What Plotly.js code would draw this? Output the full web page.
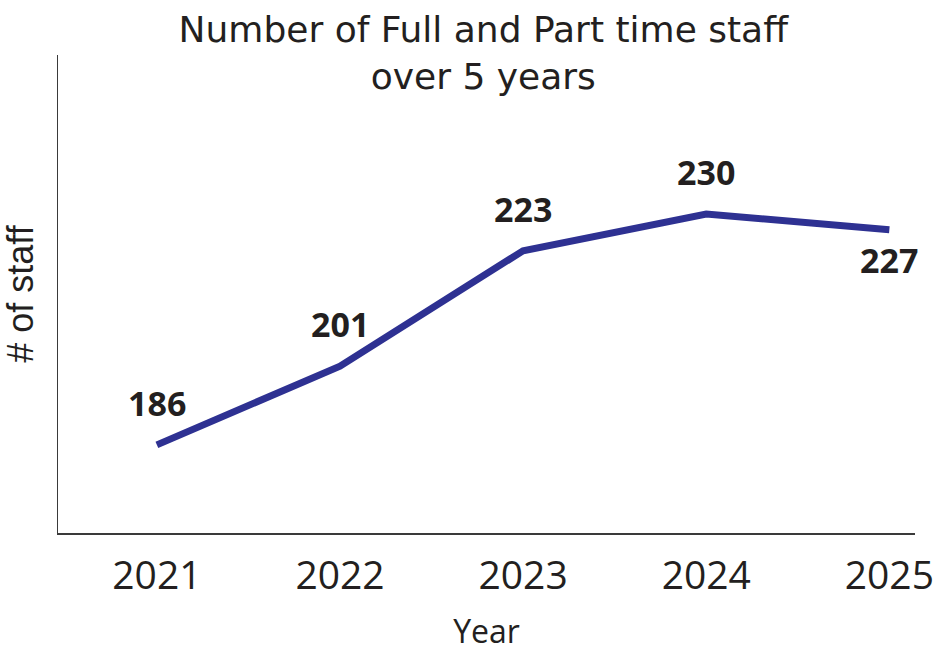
<!DOCTYPE html>
<html>
<head>
<meta charset="utf-8">
<script src="https://cdn.plot.ly/plotly-3.0.1.min.js"></script>
<style>html,body{margin:0;padding:0;background:#fff;}#chart{width:933px;height:652px;}</style>
</head>
<body>
<div id="chart"></div>
<script>
var years = ['2021', '2022', '2023', '2024', '2025'];
var staff = [186, 201, 223, 230, 227];
var labelShift = [42, 42, 42, 42, -30];

var textColor = '#231f20';
var sans = '"Open Sans", "Noto Sans", Arial, sans-serif';

var trace = {
  x: years,
  y: staff,
  type: 'scatter',
  mode: 'lines',
  line: {color: '#2e3192', width: 7},
  hoverinfo: 'skip'
};

var annotations = years.map(function (yr, i) {
  return {
    x: i, y: staff[i], xref: 'x', yref: 'y',
    text: '<b>' + staff[i] + '</b>',
    showarrow: false,
    yshift: labelShift[i],
    font: {family: sans, size: 34, color: textColor}
  };
});

var layout = {
  width: 933, height: 652,
  paper_bgcolor: '#ffffff', plot_bgcolor: '#ffffff',
  margin: {l: 58, r: 18, t: 55, b: 119},
  showlegend: false,
  title: {
    text: 'Number of Full and Part time staff<br>over 5 years',
    font: {family: '"Comic Sans MS", "DejaVu Sans", sans-serif', size: 36, color: textColor},
    x: 0.518, xanchor: 'center',
    y: 0.935, yanchor: 'top', yref: 'container'
  },
  xaxis: {
    type: 'category',
    range: [-0.54, 4.14],
    showline: true, linecolor: '#3a3a3a', linewidth: 1.5,
    showgrid: false, zeroline: false,
    ticks: '', ticklabelstandoff: 8,
    tickfont: {family: sans, size: 39, color: textColor},
    title: {text: 'Year', font: {family: sans, size: 32, color: textColor}, standoff: 26},
    fixedrange: true
  },
  yaxis: {
    range: [169.2, 260.3],
    showline: true, linecolor: '#3a3a3a', linewidth: 1.2,
    showgrid: false, zeroline: false,
    ticks: '', showticklabels: false,
    title: {text: '# of staff', font: {family: '"Liberation Sans", Arial, sans-serif', size: 36, color: textColor}, standoff: 14},
    fixedrange: true
  },
  annotations: annotations
};

Plotly.newPlot('chart', [trace], layout, {displayModeBar: false, staticPlot: true});
</script>
</body>
</html>
